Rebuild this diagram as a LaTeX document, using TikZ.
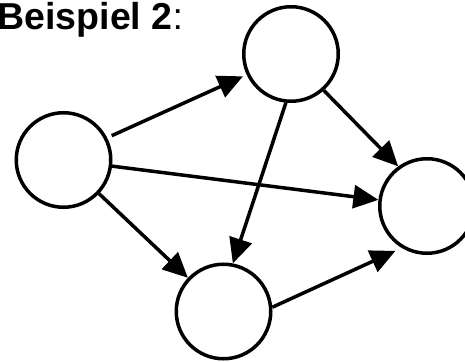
\documentclass[tikz,border=0pt]{standalone}
\usepackage{fontspec}
\setmainfont{Liberation Sans}
\usetikzlibrary{arrows.meta}
\begin{document}
\begin{tikzpicture}[x=1pt,y=1pt,
  vert/.style={circle, draw, line width=3.5pt, minimum size=94.5pt, inner sep=0pt},
  edge/.style={line width=3.5pt, -{Triangle[length=25pt,width=23pt]}}]
\useasboundingbox (0,0) rectangle (465,361);
\node[anchor=base west, inner sep=0pt] (title) at (-2.6,331.7)
  {\fontsize{37.5}{45}\selectfont\bfseries Beispiel 2\mdseries:};
\node[vert] (a) at (63.5,201) {};
\node[vert] (b) at (291,307) {};
\node[vert] (c) at (427,155) {};
\node[vert] (d) at (223.5,49.5) {};
\draw[edge, shorten <=5pt, shorten >=4pt] (a.27) -- (b.205);
\draw[edge] (a) -- (c);
\draw[edge] (a) -- (d);
\draw[edge] (b.264) -- (d.79);
\draw[edge] (b.-48) -- (c.126);
\draw[edge, shorten >=7pt] (d.5) -- (c.239);
\end{tikzpicture}
\end{document}
